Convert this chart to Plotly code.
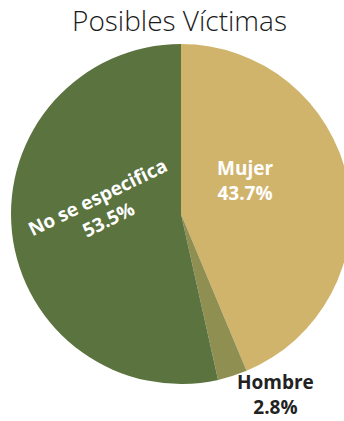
import plotly.graph_objects as go

labels = ["Mujer", "Hombre", "No se especifica"]
values = [43.7, 2.8, 53.5]
colors = ["#D1B46B", "#8F8F52", "#5B733F"]
title_text = "Posibles Víctimas"

W, H = 352, 421

def px(x, y):
    return x / W, 1 - y / H

fig = go.Figure(go.Pie(
    labels=labels,
    values=values,
    sort=False,
    direction="clockwise",
    rotation=0,
    marker=dict(colors=colors, line=dict(width=0)),
    textinfo="none",
    hoverinfo="label+percent",
    showlegend=False,
    domain=dict(x=[11 / W, 351 / W], y=[1 - 384 / H, 1 - 44 / H]),
))

FONT = "Open Sans"
pct = [f"{v:.1f}%" for v in values]

# label placements (pixel positions, angle, colour)
label_pos = [
    (245.5, 180, 0, "white"),
    (275.5, 394, 0, "#222222"),
    (102.5, 208, -26, "white"),
]
for lab, p, (x, y, ang, col) in zip(labels, pct, label_pos):
    ax, ay = px(x, y)
    fig.add_annotation(
        x=ax, y=ay, xref="paper", yref="paper",
        xanchor="center", yanchor="middle", borderpad=0,
        text=f"<b>{lab}<br>{p}</b>", showarrow=False,
        textangle=ang, align="center",
        font=dict(family=FONT, size=19, color=col),
    )

tx, ty = px(179.5, 20)
fig.add_annotation(
    x=tx, y=ty, xref="paper", yref="paper", text=title_text,
    xanchor="center", yanchor="middle",
    showarrow=False, font=dict(family=FONT, size=28, color="#1a1a1a", weight=300),
)

fig.update_layout(
    width=W, height=H,
    margin=dict(l=0, r=0, t=0, b=0),
    paper_bgcolor="white", plot_bgcolor="white",
)

fig.write_html(
    "out.html",
    config={"displayModeBar": False},
    post_script=(
        "document.documentElement.style.overflow='hidden';"
        "document.body.style.overflow='hidden';"
        "document.body.style.margin='0';"
    ),
)
